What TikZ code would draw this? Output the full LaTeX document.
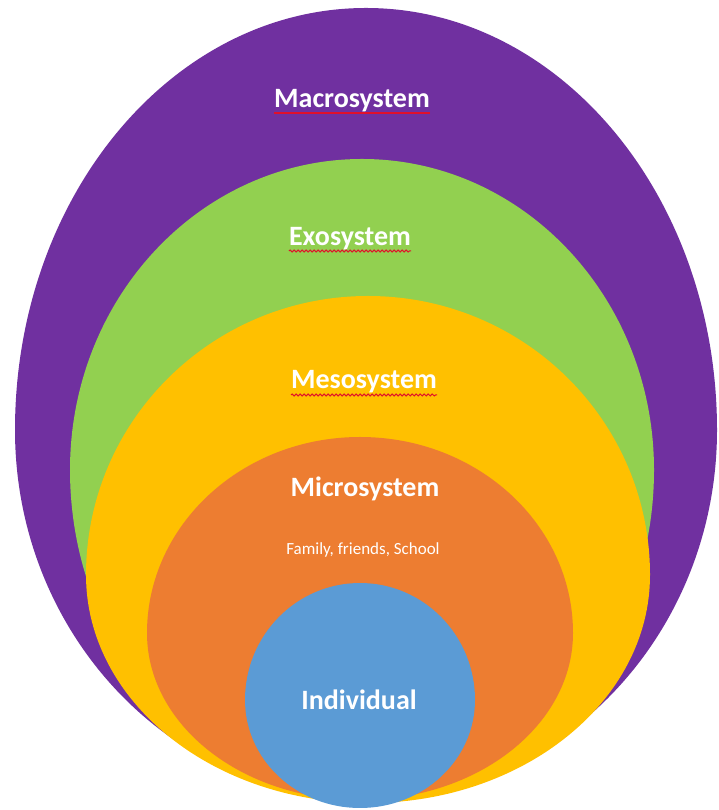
\documentclass[tikz,border=0pt]{standalone}
\usepackage{fontspec}
\setmainfont{Carlito}
\usepackage{tikz}
\usetikzlibrary{decorations.pathmorphing}
\definecolor{MacroPurple}{HTML}{7030A0}
\definecolor{ExoGreen}{HTML}{92D050}
\definecolor{MesoGold}{HTML}{FFC000}
\definecolor{MicroOrange}{HTML}{ED7D31}
\definecolor{IndivBlue}{HTML}{5B9BD5}
\definecolor{SpellRed}{HTML}{E0102A}
\tikzset{
  layerlabel/.style={inner sep=0pt, anchor=base, text=white, font=\fontsize{28}{32}\selectfont\bfseries},
  smalllabel/.style={inner sep=0pt, anchor=base, text=white, font=\fontsize{17}{20}\selectfont},
  spellline/.style={SpellRed, line width=1.5pt},
  spellwave/.style={SpellRed, line width=1pt, decorate, decoration={snake, amplitude=1pt, segment length=4pt}}
}

\begin{document}
\begin{tikzpicture}[x=1pt, y=1pt]
  % Canvas
  \fill[white] (0,0) rectangle (718,810);
  \useasboundingbox (0,0) rectangle (718,810);

  % Nested layers, outermost first
  \foreach \cx/\cy/\rx/\rt/\rb/\col in {
    366/380/351/422/370/MacroPurple,
    362/340/292/311/325/ExoGreen,
    368/235/282/279/228/MesoGold,
    360/177/213/196/167/MicroOrange,
    360/110/115/117/108/IndivBlue} {
    \fill[fill=\col] (\cx-\rx,\cy)
      arc[start angle=180, end angle=0, x radius=\rx pt, y radius=\rt pt]
      arc[start angle=0, end angle=-180, x radius=\rx pt, y radius=\rb pt] -- cycle;
  }

  % Labels
  \node[layerlabel] (macro) at (352,702) {Macrosystem};
  \node[layerlabel] (exo) at (350,564) {Exosystem};
  \node[layerlabel] (meso) at (364,421) {Mesosystem};
  \node[layerlabel] (micro) at (365,313) {Microsystem};
  \node[smalllabel] (micronote) at (363,255) {Family, friends, School};
  \node[layerlabel] (indiv) at (359,100) {Individual};

  % Spell-check marks
  \draw[spellline] ([yshift=-5pt]macro.base west) -- ([yshift=-5pt]macro.base east);
  \draw[spellwave] ([yshift=-5pt]exo.base west) -- ([yshift=-5pt]exo.base east);
  \draw[spellwave] ([yshift=-6pt]meso.base west) -- ([yshift=-6pt]meso.base east);
\end{tikzpicture}
\end{document}
